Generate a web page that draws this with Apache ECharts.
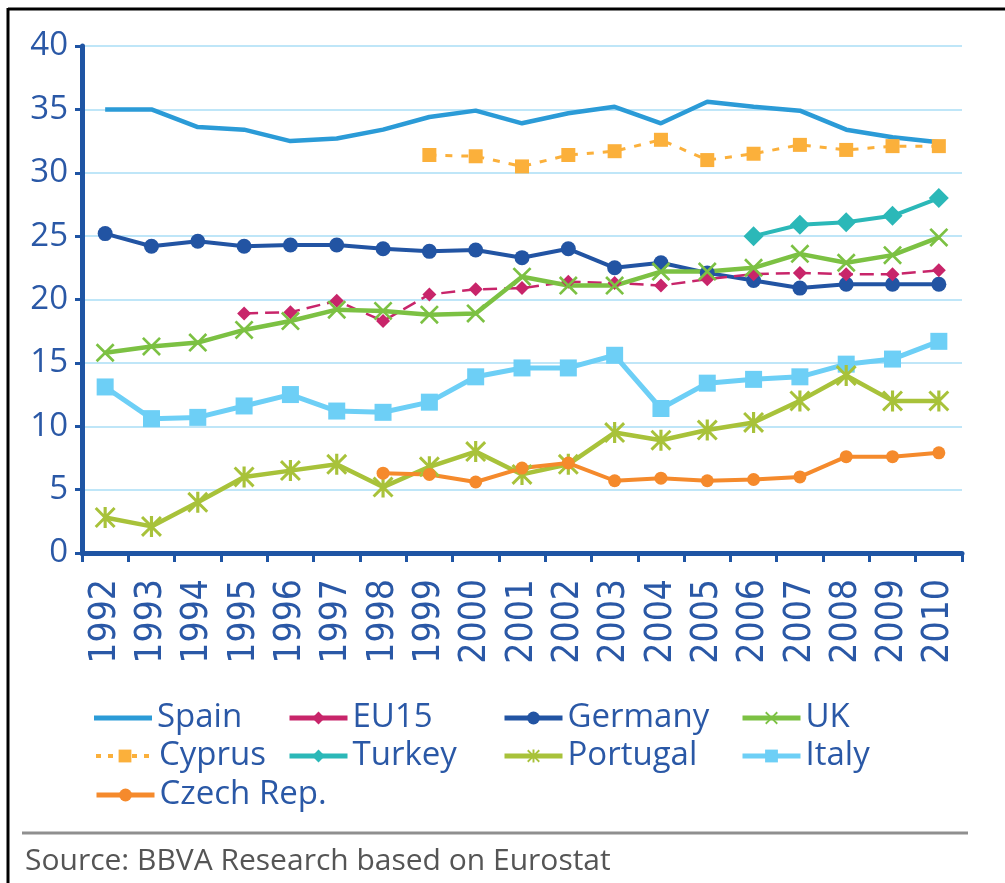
<!DOCTYPE html>
<html>
<head>
<meta charset="utf-8">
<script src="https://cdn.jsdelivr.net/npm/echarts@6/dist/echarts.min.js"></script>
<style>
    html, body {margin:0;padding:0;background:#fff;}
    #chart {width:1005px;height:883px;}
</style>
</head>
<body>
<div id="chart"></div>
<script>
    // data
    var years = ['1992','1993','1994','1995','1996','1997','1998','1999','2000','2001',
                 '2002','2003','2004','2005','2006','2007','2008','2009','2010'];
    var spain    = [35.0,35.0,33.6,33.4,32.5,32.7,33.4,34.4,34.9,33.9,34.7,35.2,33.9,35.6,35.2,34.9,33.4,32.8,32.4];
    var eu15     = [null,null,null,18.9,19.0,19.9,18.3,20.4,20.8,20.9,21.4,21.3,21.1,21.6,22.0,22.1,22.0,22.0,22.3];
    var germany  = [25.2,24.2,24.6,24.2,24.3,24.3,24.0,23.8,23.9,23.3,24.0,22.5,22.9,22.1,21.5,20.9,21.2,21.2,21.2];
    var uk       = [15.8,16.3,16.6,17.6,18.3,19.2,19.1,18.8,18.9,21.8,21.1,21.1,22.2,22.2,22.5,23.6,22.9,23.5,24.9];
    var cyprus   = [null,null,null,null,null,null,null,31.4,31.3,30.5,31.4,31.7,32.6,31.0,31.5,32.2,31.8,32.1,32.1];
    var turkey   = [null,null,null,null,null,null,null,null,null,null,null,null,null,null,25.0,25.9,26.1,26.6,28.0];
    var portugal = [2.8,2.1,4.0,6.0,6.5,7.0,5.2,6.8,8.0,6.2,7.0,9.5,8.9,9.7,10.3,12.0,14.0,12.0,12.0];
    var italy    = [13.1,10.6,10.7,11.6,12.5,11.2,11.1,11.9,13.9,14.6,14.6,15.6,11.4,13.4,13.7,13.9,14.9,15.3,16.7];
    var czech    = [null,null,null,null,null,null,6.3,6.2,5.6,6.7,7.1,5.7,5.9,5.7,5.8,6.0,7.6,7.6,7.9];

    var blueText = '#2a58a6';
    var axisBlue = '#1f55a4';
    var xMark = 'path://M2,0 L10,8 L18,0 L20,2 L12,10 L20,18 L18,20 L10,12 L2,20 L0,18 L8,10 L0,2 Z';
    var starMark = 'path://M2,0 L10,8 L18,0 L20,2 L12,10 L20,18 L18,20 L10,12 L2,20 L0,18 L8,10 L0,2 Z M8.5,0 L11.5,0 L11.5,20 L8.5,20 Z';

    function line(name, data, color, opt) {
        var s = {
            name: name,
            type: 'line',
            data: data,
            connectNulls: false,
            symbol: 'none',
            symbolSize: 12,
            color: color,
            lineStyle: {color: color, width: 4},
            itemStyle: {color: color},
            emphasis: {disabled: true},
            animation: false
        };
        for (var k in opt) s[k] = opt[k];
        return s;
    }

    // one legend per item so the four columns line up
    var legendPos = [
        ['Spain', 94, 700], ['EU15', 287, 700], ['Germany', 502, 700], ['UK', 740, 700],
        ['Cyprus', 94, 738], ['Turkey', 287, 738], ['Portugal', 502, 738], ['Italy', 740, 738],
        ['Czech Rep.', 94, 777]
    ];
    var legends = legendPos.map(function (p) {
        var lg = {
            data: [p[0]],
            left: p[1],
            top: p[2],
            padding: 0,
            itemWidth: 58,
            itemHeight: 16,
            selectedMode: false,
            lineStyle: {width: 5, type: 'solid'},
            textStyle: {fontFamily: 'Open Sans', fontSize: 33, color: blueText, lineHeight: 36}
        };
        if (p[0] == 'Spain') {
            lg.data = [{name: 'Spain', icon: 'rect'}];
            lg.itemHeight = 5;
        }
        if (p[0] == 'Cyprus') {
            lg.lineStyle = {width: 4, type: [5, 7]};
        }
        return lg;
    });

    var chart = echarts.init(document.getElementById('chart'));
    var option = {
        backgroundColor: '#fff',
        animation: false,
        legend: legends,
        grid: {left: 82, right: 43, top: 46, bottom: 330, containLabel: false},
        xAxis: {
            type: 'category',
            data: years,
            boundaryGap: true,
            axisLine: {lineStyle: {color: axisBlue, width: 5}},
            axisTick: {show: true, length: 9, lineStyle: {color: axisBlue, width: 3}},
            axisLabel: {rotate: 90, margin: 26, interval: 0, fontFamily: 'Liberation Sans Narrow, DejaVu Sans Condensed, sans-serif',
                        fontSize: 37, color: blueText},
            splitLine: {show: false}
        },
        yAxis: {
            type: 'value',
            min: 0, max: 40, interval: 5,
            axisLine: {show: true, lineStyle: {color: axisBlue, width: 5}},
            axisTick: {show: true, length: 7, lineStyle: {color: axisBlue, width: 3}},
            axisLabel: {margin: 14, fontFamily: 'Open Sans', fontSize: 33, color: blueText},
            splitLine: {lineStyle: {color: '#bfe6f8', width: 2}}
        },
        series: [
            line('Spain', spain, '#2b9bd7', {lineStyle: {color: '#2b9bd7', width: 4.5}}),
            line('Cyprus', cyprus, '#fbb03b', {symbol: 'rect', symbolSize: 14, lineStyle: {color: '#fbb03b', width: 3, type: [7, 9]}}),
            line('Turkey', turkey, '#2bb8b8', {symbol: 'diamond', symbolSize: 20}),
            line('Germany', germany, '#2254a3', {symbol: 'circle', symbolSize: 15}),
            line('EU15', eu15, '#c8256a', {symbol: 'diamond', symbolSize: 14, lineStyle: {color: '#c8256a', width: 2.5, type: [14, 7]}}),
            line('UK', uk, '#7cc143', {symbol: xMark, symbolSize: 19, lineStyle: {color: '#7cc143', width: 4.5}}),
            line('Italy', italy, '#6dcff6', {symbol: 'rect', symbolSize: 17, lineStyle: {color: '#6dcff6', width: 5}}),
            line('Portugal', portugal, '#a8c23a', {symbol: starMark, symbolSize: 21, lineStyle: {color: '#a8c23a', width: 4.5}}),
            line('Czech Rep.', czech, '#f58a2c', {symbol: 'circle', symbolSize: 13})
        ],
        graphic: [
            {type: 'line', shape: {x1: 8, y1: 8, x2: 8, y2: 883}, style: {stroke: '#000', lineWidth: 3}},
            {type: 'line', shape: {x1: 8, y1: 9, x2: 1005, y2: 9}, style: {stroke: '#000', lineWidth: 3}},
            {type: 'line', shape: {x1: 22, y1: 833, x2: 968, y2: 833}, style: {stroke: '#8f8f8f', lineWidth: 3}},
            {type: 'text', left: 25, top: 846,
             style: {text: 'Source: BBVA Research based on Eurostat', fill: '#555', fontFamily: 'Open Sans', fontSize: 30}}
        ]
    };
    chart.setOption(option);
</script>
</body>
</html>
